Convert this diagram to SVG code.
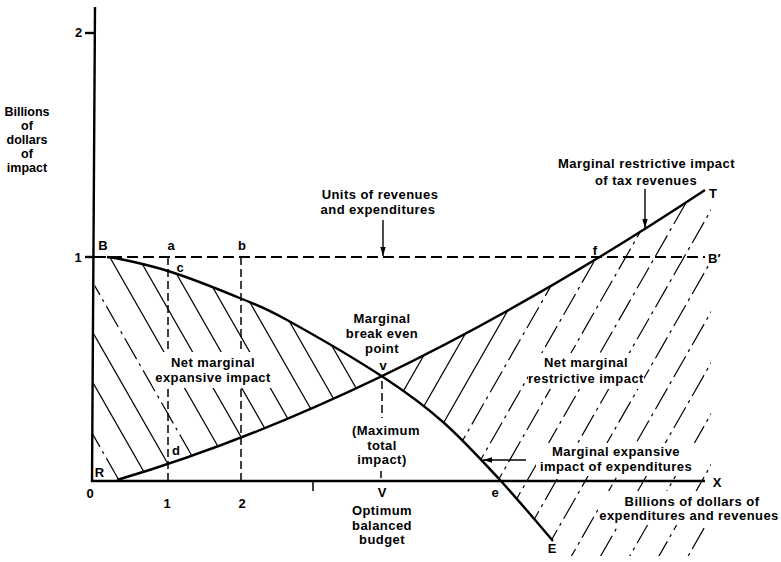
<svg xmlns="http://www.w3.org/2000/svg" width="781" height="562" viewBox="0 0 781 562">
<defs>
<style>
.t{font-family:"Liberation Sans",Arial,Helvetica,sans-serif;font-weight:bold;font-size:13px;letter-spacing:0.45px;text-anchor:middle;fill:#000}
.s{letter-spacing:0px}
.lab{font-size:12.5px;letter-spacing:0px}
.ax{stroke:#000;stroke-width:2.4;fill:none}
.cv{stroke:#000;stroke-width:2.4;fill:none}
.dh{stroke:#000;stroke-width:2;stroke-dasharray:11 5;fill:none}
.dv{stroke:#000;stroke-width:1.5;stroke-dasharray:8 4;fill:none}
.h{stroke:#000;stroke-width:1.2;fill:none}
.hd{stroke:#000;stroke-width:1.2;fill:none;stroke-dasharray:24 5 3 5}
.bg{fill:#fff}
.ar{stroke:#000;stroke-width:1.4;fill:none;marker-end:url(#ah)}
</style>
<marker id="ah" viewBox="0 0 10 6" refX="10" refY="3" markerWidth="9" markerHeight="5.4" markerUnits="userSpaceOnUse" orient="auto">
<path d="M0,0 L10,3 L0,6 Z" fill="#000"/>
</marker>
<clipPath id="cA"><path d="M95,257 L107,257 C117,258 145.5,264 168,271 C190.5,278 222.2,290.8 242,299 C261.8,307.2 263.5,307 287,320 C310.5,333 357,360 383,377 C409,394 423.5,404.8 443,422 C462.5,439.2 481.7,460.2 500,480 C518.3,499.8 544.2,530.8 553,541 L92,541 Z"/></clipPath>
<clipPath id="cB"><path d="M92,481 L117,480 Q388,400 705,190 L92,190 Z"/></clipPath>
<clipPath id="cD"><path d="M107,257 C117,258 145.5,264 168,271 C190.5,278 222.2,290.8 242,299 C261.8,307.2 263.5,307 287,320 C310.5,333 357,360 383,377 C409,394 423.5,404.8 443,422 C462.5,439.2 481.7,460.2 500,480 C518.3,499.8 544.2,530.8 553,541 L553,556 L711,556 L711,150 L107,150 Z"/></clipPath>
<clipPath id="cE"><path d="M117,480 Q388,400 705,190 L711,190 L711,556 L117,556 Z"/></clipPath>
</defs>
<rect x="0" y="0" width="781" height="562" fill="#fff"/>

<g id="hatch-expansive" clip-path="url(#cA)">
<g clip-path="url(#cB)">
<line class="hd" x1="88" y1="426" x2="400" y2="972"/>
<line class="h" x1="88" y1="374" x2="400" y2="920"/>
<line class="h" x1="88" y1="324" x2="400" y2="870"/>
<line class="hd" x1="88" y1="274" x2="400" y2="820"/>
<line class="h" x1="88" y1="219" x2="400" y2="765"/>
<line class="h" x1="88" y1="169" x2="400" y2="715"/>
<line class="h" x1="88" y1="119" x2="400" y2="665"/>
<line class="h" x1="88" y1="69" x2="400" y2="615"/>
<line class="h" x1="88" y1="19" x2="400" y2="565"/>
<line class="h" x1="88" y1="-31" x2="400" y2="515"/>
<line class="h" x1="88" y1="-81" x2="400" y2="465"/>
</g>
</g>

<g id="hatch-restrictive" clip-path="url(#cD)">
<g clip-path="url(#cE)">
<line class="h" x1="380" y1="432" x2="715" y2="-154"/>
<line class="h" x1="380" y1="483" x2="715" y2="-103"/>
<line class="h" x1="380" y1="534" x2="715" y2="-52"/>
<line class="hd" x1="380" y1="585" x2="715" y2="-1"/>
<line class="hd" x1="380" y1="636" x2="715" y2="50"/>
<line class="hd" x1="380" y1="687" x2="715" y2="101"/>
<line class="hd" x1="380" y1="738" x2="715" y2="152"/>
<line class="hd" x1="380" y1="789" x2="715" y2="203"/>
<line class="hd" x1="380" y1="840" x2="715" y2="254"/>
<line class="hd" x1="380" y1="891" x2="715" y2="305"/>
<line class="hd" x1="380" y1="942" x2="715" y2="356"/>
<line class="hd" x1="380" y1="993" x2="715" y2="407"/>
<line class="hd" x1="380" y1="1044" x2="715" y2="458"/>
<line class="hd" x1="380" y1="1095" x2="715" y2="509"/>
</g>
</g>

<g id="guides">
<line class="dh" x1="95" y1="257" x2="705" y2="257"/>
<line class="dv" x1="168" y1="257" x2="168" y2="481"/>
<line class="dv" x1="241" y1="257" x2="241" y2="481"/>
<line class="dv" x1="382" y1="381" x2="382" y2="418"/>
<line class="dv" x1="381" y1="471" x2="381" y2="478"/>
</g>

<g id="label-backgrounds">
<rect class="bg" x="155" y="352" width="117" height="36"/>
<rect class="bg" x="528" y="353" width="116" height="36"/>
<rect class="bg" x="536" y="443" width="161" height="33"/>
<rect class="bg" x="598" y="491" width="183" height="34"/>
</g>

<g id="axes">
<line class="ax" x1="95" y1="7" x2="92" y2="482"/>
<line class="ax" x1="91" y1="481" x2="705" y2="481"/>
<line class="ax" x1="85" y1="33" x2="95" y2="33"/>
<line class="ax" x1="85" y1="257" x2="95" y2="257"/>
<line stroke="#000" stroke-width="1.5" x1="313" y1="481" x2="313" y2="491"/>
</g>

<g id="curve-expenditures">
<path class="cv" d="M107,257 C117,258 145.5,264 168,271 C190.5,278 222.2,290.8 242,299 C261.8,307.2 263.5,307 287,320 C310.5,333 357,360 383,377 C409,394 423.5,404.8 443,422 C462.5,439.2 481.7,460.2 500,480 C518.3,499.8 544.2,530.8 553,541"/>
</g>
<g id="curve-revenues">
<path class="cv" d="M117,480 Q388,400 705,190"/>
</g>

<g id="connectors">
<line class="ar" x1="383" y1="220" x2="383" y2="256"/>
<line class="ar" x1="645" y1="189" x2="645" y2="228"/>
<line class="ar" x1="526" y1="460" x2="483" y2="460"/>
</g>

<g id="labels">
<text class="t s" x="78.5" y="37">2</text>
<text class="t s" x="78" y="262">1</text>
<g id="y-title" class="t lab">
<text class="t lab" x="27" y="116">Billions</text>
<text class="t lab" x="27" y="130">of</text>
<text class="t lab" x="27" y="144">dollars</text>
<text class="t lab" x="27" y="158">of</text>
<text class="t lab" x="27" y="172">impact</text>
</g>
<text class="t s" x="103" y="250">B</text>
<text class="t s" x="171" y="250">a</text>
<text class="t s" x="242" y="250">b</text>
<text class="t s" x="180" y="272">c</text>
<text class="t s" x="176" y="455">d</text>
<text class="t s" x="99.5" y="477">R</text>
<text class="t s" x="90" y="498">0</text>
<text class="t s" x="167" y="508">1</text>
<text class="t s" x="242" y="508">2</text>
<text class="t" x="213" y="367">Net marginal</text>
<text class="t" x="213" y="382">expansive impact</text>
<text class="t" x="380" y="199">Units of revenues</text>
<text class="t" x="378" y="214">and expenditures</text>
<text class="t" x="382" y="323">Marginal</text>
<text class="t" x="382" y="338">break even</text>
<text class="t" x="382" y="353">point</text>
<text class="t s" x="383" y="370">v</text>
<text class="t" x="386" y="435">(Maximum</text>
<text class="t" x="382" y="450">total</text>
<text class="t" x="382" y="464">impact)</text>
<text class="t s" x="382" y="497">V</text>
<text class="t" x="382" y="515">Optimum</text>
<text class="t" x="382" y="530">balanced</text>
<text class="t" x="382" y="544">budget</text>
<text class="t s" x="495" y="497">e</text>
<text class="t s" x="552" y="553">E</text>
<text class="t s" x="717" y="487">X</text>
<text class="t s" x="708" y="263" style="text-anchor:start">B′</text>
<text class="t s" x="713" y="198">T</text>
<text class="t s" x="595" y="255">f</text>
<text class="t" x="646.5" y="168">Marginal restrictive impact</text>
<text class="t" x="646" y="185">of tax revenues</text>
<text class="t" x="586" y="367">Net marginal</text>
<text class="t" x="586" y="383">restrictive impact</text>
<text class="t" x="616" y="456">Marginal expansive</text>
<text class="t" x="616" y="471">impact of expenditures</text>
<text class="t" x="692" y="506">Billions of dollars of</text>
<text class="t" x="689" y="520">expenditures and revenues</text>
</g>
</svg>
